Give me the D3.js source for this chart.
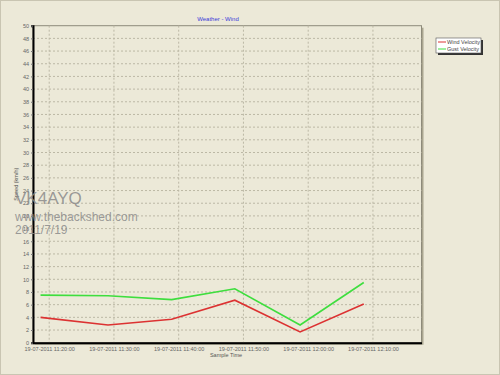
<!DOCTYPE html>
<meta charset="utf-8">
<title>Weather - Wind</title>
<script src="https://d3js.org/d3.v7.min.js"></script>
<style>
  body { margin: 0; background: #ece9d8; }
  text { font-family: Arial, "Liberation Sans", sans-serif; }
</style>
<body>
</body>
<script>
// sample times
var sampleTimes = ["11:18:40", "11:29:05", "11:38:55", "11:48:40", "11:58:45", "12:08:35"];
var windVelocity = [4.0, 2.8, 3.7, 6.7, 1.7, 6.1];
var gustVelocity = [7.5, 7.4, 6.8, 8.5, 2.8, 9.5];
var tickTimes = ["11:20:00", "11:30:00", "11:40:00", "11:50:00", "12:00:00", "12:10:00"];
var seriesNames = ["Wind Velocity", "Gust Velocity"];
var seriesColors = ["#dc3232", "#3ede3e"];

var parse = d3.timeParse("%d-%m-%Y %H:%M:%S");
function t(s) { return parse("19-07-2011 " + s); }

var svg = d3.select("body").append("svg")
            .attr("width", 500)
            .attr("height", 375);

svg.append("rect")
   .attr("x", 0.5).attr("y", 0.5)
   .attr("width", 499).attr("height", 374)
   .attr("fill", "#ece9d8")
   .attr("stroke", "#c9c5b2");

var plotLeft = 33, plotRight = 421.5, plotTop = 25.7, plotBottom = 342.7;

var x = d3.scaleTime()
          .domain([t("11:17:30"), t("12:17:30")])
          .range([plotLeft, plotRight]);
var y = d3.scaleLinear()
          .domain([0, 50])
          .range([plotBottom, plotTop]);

// plot shadow + frame
svg.append("rect")
   .attr("x", plotLeft + 2).attr("y", plotTop + 2)
   .attr("width", plotRight - plotLeft).attr("height", plotBottom - plotTop)
   .attr("fill", "#aaa690");
svg.append("rect")
   .attr("x", plotLeft).attr("y", plotTop)
   .attr("width", plotRight - plotLeft).attr("height", plotBottom - plotTop)
   .attr("fill", "#ece9d8")
   .attr("stroke", "#8d8a7a");

// gridlines
var yTicks = d3.range(0, 51, 2);
svg.append("g").selectAll("line")
   .data(yTicks.slice(1, -1))
   .enter().append("line")
   .attr("x1", plotLeft).attr("x2", plotRight)
   .attr("y1", function (d) { return y(d); })
   .attr("y2", function (d) { return y(d); })
   .attr("stroke", "#bcb8a5")
   .attr("stroke-dasharray", "2,2");
svg.append("g").selectAll("line")
   .data(tickTimes)
   .enter().append("line")
   .attr("x1", function (d) { return x(t(d)); })
   .attr("x2", function (d) { return x(t(d)); })
   .attr("y1", plotTop).attr("y2", plotBottom)
   .attr("stroke", "#bcb8a5")
   .attr("stroke-dasharray", "2,2");

// axes
var yAxis = svg.append("g")
   .attr("transform", "translate(" + plotLeft + ",0)")
   .call(d3.axisLeft(y).tickValues(yTicks).tickSize(2).tickPadding(2));
var xAxis = svg.append("g")
   .attr("transform", "translate(0," + plotBottom + ")")
   .call(d3.axisBottom(x).tickValues(tickTimes.map(t)).tickSize(0).tickPadding(4)
          .tickFormat(d3.timeFormat("%d-%m-%Y %H:%M:%S")));
[yAxis, xAxis].forEach(function (a) {
  a.select(".domain").attr("stroke", "#000").attr("stroke-width", 2);
  a.selectAll(".tick line").attr("stroke", "#777");
  a.selectAll("text").attr("fill", "#666").style("font-size", "5.5px")
   .style("font-family", "Arial, 'Liberation Sans', sans-serif");
});

// series lines
var series = [windVelocity, gustVelocity];
var line = d3.line()
             .x(function (d, i) { return x(t(sampleTimes[i])); })
             .y(function (d) { return y(d); });
svg.append("g").selectAll("path")
   .data(series)
   .enter().append("path")
   .attr("d", line)
   .attr("fill", "none")
   .attr("stroke", function (d, i) { return seriesColors[i]; })
   .attr("stroke-width", 1.6);

// titles
svg.append("text")
   .attr("x", 218).attr("y", 20.5)
   .attr("text-anchor", "middle")
   .attr("fill", "#3b3bd8")
   .style("font-size", "6px")
   .text("Weather - Wind");
svg.append("text")
   .attr("x", 226).attr("y", 357)
   .attr("text-anchor", "middle")
   .attr("fill", "#555")
   .style("font-size", "5.5px")
   .text("Sample Time");
svg.append("text")
   .attr("transform", "translate(18," + ((plotTop + plotBottom) / 2) + ") rotate(-90)")
   .attr("text-anchor", "middle")
   .attr("fill", "#555")
   .style("font-size", "5.5px")
   .text("Speed (km/h)");

// legend
var lg = svg.append("g").attr("transform", "translate(436,38)");
lg.append("rect").attr("x", 2).attr("y", 2).attr("width", 45).attr("height", 15).attr("fill", "#333");
lg.append("rect").attr("x", 0).attr("y", 0).attr("width", 45).attr("height", 15)
  .attr("fill", "#fff").attr("stroke", "#555").attr("stroke-width", 0.6);
seriesNames.forEach(function (name, i) {
  lg.append("line").attr("x1", 2).attr("x2", 10)
    .attr("y1", 4 + i * 7).attr("y2", 4 + i * 7)
    .attr("stroke", seriesColors[i]).attr("stroke-width", 1);
  lg.append("text").attr("x", 11).attr("y", 6 + i * 7)
    .attr("fill", "#444").style("font-size", "5.5px").text(name);
});

// watermark (overlays the axis area, as in the original)
var wm = svg.append("g").attr("fill", "#8a8a8a").attr("fill-opacity", 0.85);
wm.append("text").attr("x", 15).attr("y", 204).style("font-size", "17px").text("VK4AYQ");
wm.append("text").attr("x", 15).attr("y", 221).style("font-size", "12px").text("www.thebackshed.com");
wm.append("text").attr("x", 15).attr("y", 234).style("font-size", "12px").text("2011/7/19");
</script>
